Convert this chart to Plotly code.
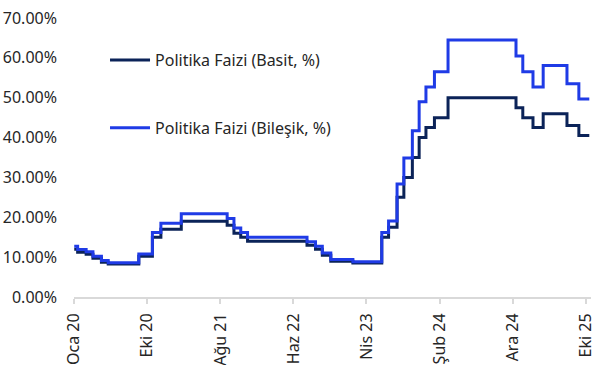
import plotly.graph_objects as go

# Policy rate change dates (step series)
dates = ["2020-01-03", "2020-01-17", "2020-02-21", "2020-03-20", "2020-04-24",
         "2020-05-22", "2020-09-25", "2020-11-20", "2020-12-25", "2021-03-19",
         "2021-09-24", "2021-10-22", "2021-11-19", "2021-12-17", "2022-08-19",
         "2022-09-23", "2022-10-21", "2022-11-25", "2023-02-24", "2023-06-23",
         "2023-07-21", "2023-08-25", "2023-09-22", "2023-10-27", "2023-11-24",
         "2023-12-22", "2024-01-26", "2024-03-22", "2024-12-27", "2025-01-24",
         "2025-03-07", "2025-04-18", "2025-07-25", "2025-09-12", "2025-10-25"]

simple_rate = [12.00, 11.25, 10.75, 9.75, 8.75,
               8.25, 10.25, 15.00, 17.00, 19.00,
               18.00, 16.00, 15.00, 14.00, 13.00,
               12.00, 10.50, 9.00, 8.50, 15.00,
               17.50, 25.00, 30.00, 35.00, 40.00,
               42.50, 45.00, 50.00, 47.50, 45.00,
               42.50, 46.00, 43.00, 40.50, 40.50]

compound_rate = [12.73, 11.89, 11.34, 10.23, 9.14,
                 8.59, 10.78, 16.16, 18.50, 20.88,
                 19.68, 17.32, 16.16, 15.01, 13.86,
                 12.73, 11.06, 9.41, 8.86, 16.16,
                 19.09, 28.33, 34.87, 41.74, 48.96,
                 52.69, 56.53, 64.48, 60.45, 56.53,
                 52.69, 58.09, 53.48, 49.70, 49.70]

tick_dates = ["2020-01-03", "2020-10-30", "2021-08-27", "2022-06-24",
              "2023-04-21", "2024-02-16", "2024-12-13", "2025-10-10"]
tick_labels = ["Oca 20", "Eki 20", "Ağu 21", "Haz 22",
               "Nis 23", "Şub 24", "Ara 24", "Eki 25"]

y_ticks = [0, 10, 20, 30, 40, 50, 60, 70]

NAVY = "#0b2358"
BLUE = "#1f3be6"
FONT = "Noto Sans"
TXT = "#262626"

fig = go.Figure()
fig.add_trace(go.Scatter(
    x=dates, y=simple_rate, mode="lines", line_shape="hv",
    line=dict(color=NAVY, width=3),
    name="Politika Faizi (Basit, %)", legend="legend"))
fig.add_trace(go.Scatter(
    x=dates, y=compound_rate, mode="lines", line_shape="hv",
    line=dict(color=BLUE, width=3),
    name="Politika Faizi (Bileşik, %)", legend="legend2"))

legend_common = dict(font=dict(family=FONT, size=16, color=TXT),
                     bgcolor="rgba(0,0,0,0)", xanchor="left", yanchor="middle",
                     itemwidth=40)

fig.update_layout(
    width=603, height=365,
    margin=dict(l=74, r=12, t=18, b=68),
    plot_bgcolor="white", paper_bgcolor="white",
    font=dict(family=FONT, size=16, color=TXT),
    showlegend=True,
    legend=dict(x=0.06, y=0.849, **legend_common),
    legend2=dict(x=0.06, y=0.606, **legend_common),
    xaxis=dict(
        type="date", automargin=False,
        range=["2020-01-02", "2025-11-01"],
        tickvals=tick_dates, ticktext=tick_labels,
        tickangle=-90,
        showgrid=False, zeroline=False,
        showline=True, linecolor="#d9d9d9", linewidth=2,
        ticks="outside", ticklen=5, tickwidth=2, tickcolor="#d9d9d9",
        ticklabelstandoff=3,
        tickfont=dict(family=FONT, size=16, color=TXT),
    ),
    yaxis=dict(
        range=[0, 70], automargin=False,
        tickvals=y_ticks,
        ticktext=[f"{v:.2f}%" for v in y_ticks],
        showgrid=False, zeroline=False, showline=False,
        ticks="", ticklabelstandoff=16,
        tickfont=dict(family=FONT, size=16, color=TXT),
    ),
)

fig.write_html("out.html")
